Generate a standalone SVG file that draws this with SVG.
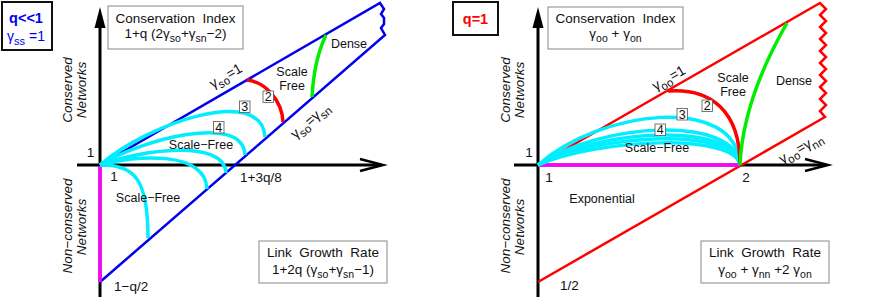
<svg xmlns="http://www.w3.org/2000/svg" width="871" height="302" viewBox="0 0 871 302">
<style>
text{font-family:"Liberation Sans",Arial,sans-serif;font-size:13.5px;fill:#111}
.it{font-style:italic;font-size:13.5px}
.sm{font-size:12.5px}
.box{fill:#fff;stroke:#888;stroke-width:1}
.leg{fill:#fff;stroke:#111;stroke-width:2}
.ax{stroke:#000;stroke-width:3;fill:none}
.arr{stroke:#000;stroke-width:2.5;fill:none}
.blue{stroke:#0000ee;stroke-width:2.5;fill:none}
.red{stroke:#ff0000;stroke-width:2.5;fill:none}
.redt{stroke:#ff0000;stroke-width:3.5;fill:none}
.cy{stroke:#00eeff;stroke-width:3.5;fill:none}
.gr{stroke:#00ee00;stroke-width:3.5;fill:none}
.mg{stroke:#ff00ff;stroke-width:3.5;fill:none}
.nb{fill:#fff;stroke:#555;stroke-width:0.8}
</style>

<g id="left-panel">
  <g id="left-legend">
    <rect class="leg" x="2" y="2" width="50" height="48"/>
    <text x="26" y="23" text-anchor="middle" style="fill:#0000ee;font-weight:bold;font-size:14.5px">q&lt;&lt;1</text>
    <text x="26" y="41" text-anchor="middle" style="fill:#0000ee;font-size:14px">γ<tspan dy="4" style="font-size:11px;fill:#0000ee">ss</tspan><tspan dy="-4" style="fill:#0000ee"> =1</tspan></text>
  </g>
  <g id="left-axes">
    <line class="ax" x1="100" y1="20" x2="100" y2="297"/>
    <polygon points="100,7 94.5,28 105.5,28" fill="#000"/>
    <line class="ax" x1="77" y1="165" x2="381" y2="165"/>
    <polyline class="arr" points="360,159 383,165 360,171"/>
  </g>
  <g id="left-region">
    <polyline class="blue" points="100,165 380,3 384,9 381,14 384,18 384,24 381,28 385,35 100,282"/>
    <line class="mg" x1="100" y1="166" x2="100" y2="282"/>
    <path class="cy" d="M100,165 C150,122 262,85 265,137"/>
    <path class="cy" d="M100,165 C140,140 243,112 245,155"/>
    <path class="cy" d="M100,165 C140,150 224,138 226,173"/>
    <path class="cy" d="M100,165 C135,155 205,150 207,189"/>
    <path class="cy" d="M100,165 C135,164 148,180 148,238"/>
    <path class="redt" d="M247,80 C265,82 282,100 283,122"/>
    <path class="gr" d="M326,35 Q314,60 312,97"/>
  </g>
  <g id="left-labels">
    <text x="90.5" y="157" text-anchor="middle">1</text>
    <text x="114" y="181" text-anchor="middle">1</text>
    <text x="240" y="182">1+3q/8</text>
    <text x="114" y="291">1−q/2</text>
    <text x="201" y="149" text-anchor="middle" class="sm">Scale−Free</text>
    <text x="148" y="202" text-anchor="middle" class="sm">Scale−Free</text>
    <text x="292" y="76" text-anchor="middle" class="sm">Scale</text>
    <text x="292" y="90" text-anchor="middle" class="sm">Free</text>
    <text x="349" y="48" text-anchor="middle" class="sm">Dense</text>
    <text transform="translate(228,80) rotate(-30)" text-anchor="middle" style="font-size:14px">γ<tspan dy="4" style="font-size:11.5px">so</tspan><tspan dy="-4">=1</tspan></text>
    <text transform="translate(313,124) rotate(-41)" text-anchor="middle" style="font-size:14px">γ<tspan dy="4" style="font-size:11.5px">so</tspan><tspan dy="-4">=γ</tspan><tspan dy="4" style="font-size:11.5px">sn</tspan></text>
    <rect class="nb" x="263" y="91" width="10.5" height="11.5"/>
    <text x="268.2" y="101" text-anchor="middle" class="sm">2</text>
    <rect class="nb" x="239.5" y="101" width="10.5" height="11.5"/>
    <text x="244.7" y="111" text-anchor="middle" class="sm">3</text>
    <rect class="nb" x="213.5" y="121.5" width="10.5" height="11.5"/>
    <text x="218.7" y="131.5" text-anchor="middle" class="sm">4</text>
    <text class="it" transform="translate(72,90) rotate(-90)" text-anchor="middle">Conserved</text>
    <text class="it" transform="translate(86,90) rotate(-90)" text-anchor="middle">Networks</text>
    <text class="it" transform="translate(72,226) rotate(-90)" text-anchor="middle">Non−conserved</text>
    <text class="it" transform="translate(86,227) rotate(-90)" text-anchor="middle">Networks</text>
  </g>
  <g id="left-ci-box">
    <rect class="box" x="108" y="6" width="135" height="43"/>
    <text x="175.5" y="23" text-anchor="middle" xml:space="preserve">Conservation  Index</text>
    <text x="175.5" y="38" text-anchor="middle">1+q (2γ<tspan dy="4" style="font-size:10.5px">so</tspan><tspan dy="-4">+γ</tspan><tspan dy="4" style="font-size:10.5px">sn</tspan><tspan dy="-4">−2)</tspan></text>
  </g>
  <g id="left-lgr-box">
    <rect class="box" x="259" y="241" width="128" height="42"/>
    <text x="323" y="257" text-anchor="middle" xml:space="preserve">Link  Growth  Rate</text>
    <text x="323" y="274" text-anchor="middle">1+2q (γ<tspan dy="4" style="font-size:10.5px">so</tspan><tspan dy="-4">+γ</tspan><tspan dy="4" style="font-size:10.5px">sn</tspan><tspan dy="-4">−1)</tspan></text>
  </g>
</g>

<g id="right-panel">
  <g id="right-legend">
    <rect class="leg" x="453" y="2" width="45" height="33"/>
    <text x="475.5" y="24" text-anchor="middle" style="fill:#ff0000;font-weight:bold;font-size:14.5px">q=1</text>
  </g>
  <g id="right-axes">
    <line class="ax" x1="538" y1="20" x2="538" y2="297"/>
    <polygon points="538,7 532.5,28 543.5,28" fill="#000"/>
    <line class="ax" x1="514" y1="165" x2="826" y2="165"/>
    <polyline class="arr" points="805,159 828,165 805,171"/>
  </g>
  <g id="right-region">
    <polyline class="red" points="538,165 820,3 826,9 820,15 826,21 820,27 826,33 820,39 826,45 820,51 826,57 820,63 826,69 820,75 826,81 820,87 826,93 820,99 826,105 820,111 825,117 538,282"/>
    <line class="mg" x1="538" y1="165" x2="740" y2="165"/>
    <path class="cy" d="M538,165 C600,110 736,93 740,165"/>
    <path class="cy" d="M538,165 C600,122 736,115 740,165"/>
    <path class="cy" d="M538,165 C600,128 736,122 740,165"/>
    <path class="cy" d="M538,165 C600,133 736,127 740,165"/>
    <path class="cy" d="M538,165 C600,138 736,133 740,165"/>
    <path class="redt" d="M668,91 C710,88 740,110 740,165"/>
    <path class="gr" d="M740,165 C742,120 760,70 787,23"/>
  </g>
  <g id="right-labels">
    <text x="529" y="157" text-anchor="middle">1</text>
    <text x="549" y="182" text-anchor="middle">1</text>
    <text x="746" y="182" text-anchor="middle">2</text>
    <text x="560" y="290">1/2</text>
    <text x="602" y="203" text-anchor="middle" class="sm">Exponential</text>
    <text x="657" y="152" text-anchor="middle" class="sm">Scale−Free</text>
    <text x="733" y="82" text-anchor="middle" class="sm">Scale</text>
    <text x="733" y="96" text-anchor="middle" class="sm">Free</text>
    <text x="794" y="85" text-anchor="middle" class="sm">Dense</text>
    <text transform="translate(671,82) rotate(-30)" text-anchor="middle" style="font-size:14px">γ<tspan dy="4" style="font-size:11.5px">oo</tspan><tspan dy="-4">=1</tspan></text>
    <text transform="translate(803,152) rotate(-30)" text-anchor="middle" style="font-size:14px">γ<tspan dy="4" style="font-size:11.5px">oo</tspan><tspan dy="-4">=γ</tspan><tspan dy="4" style="font-size:11.5px">nn</tspan></text>
    <rect class="nb" x="702" y="100" width="10.5" height="11.5"/>
    <text x="707.2" y="110" text-anchor="middle" class="sm">2</text>
    <rect class="nb" x="677" y="108.5" width="10.5" height="11.5"/>
    <text x="682.2" y="118.5" text-anchor="middle" class="sm">3</text>
    <rect class="nb" x="655" y="124" width="10.5" height="11.5"/>
    <text x="660.2" y="134" text-anchor="middle" class="sm">4</text>
    <text class="it" transform="translate(510,90) rotate(-90)" text-anchor="middle">Conserved</text>
    <text class="it" transform="translate(524,90) rotate(-90)" text-anchor="middle">Networks</text>
    <text class="it" transform="translate(510,226) rotate(-90)" text-anchor="middle">Non−conserved</text>
    <text class="it" transform="translate(524,227) rotate(-90)" text-anchor="middle">Networks</text>
  </g>
  <g id="right-ci-box">
    <rect class="box" x="548" y="7" width="135" height="42"/>
    <text x="615.5" y="23" text-anchor="middle" xml:space="preserve">Conservation  Index</text>
    <text x="615.5" y="38" text-anchor="middle">γ<tspan dy="4" style="font-size:10.5px">oo</tspan><tspan dy="-4"> + γ</tspan><tspan dy="4" style="font-size:10.5px">on</tspan></text>
  </g>
  <g id="right-lgr-box">
    <rect class="box" x="701" y="241" width="128" height="42"/>
    <text x="765" y="257" text-anchor="middle" xml:space="preserve">Link  Growth  Rate</text>
    <text x="765" y="274" text-anchor="middle">γ<tspan dy="4" style="font-size:10.5px">oo</tspan><tspan dy="-4"> + γ</tspan><tspan dy="4" style="font-size:10.5px">nn</tspan><tspan dy="-4"> +2 γ</tspan><tspan dy="4" style="font-size:10.5px">on</tspan></text>
  </g>
</g>
</svg>
